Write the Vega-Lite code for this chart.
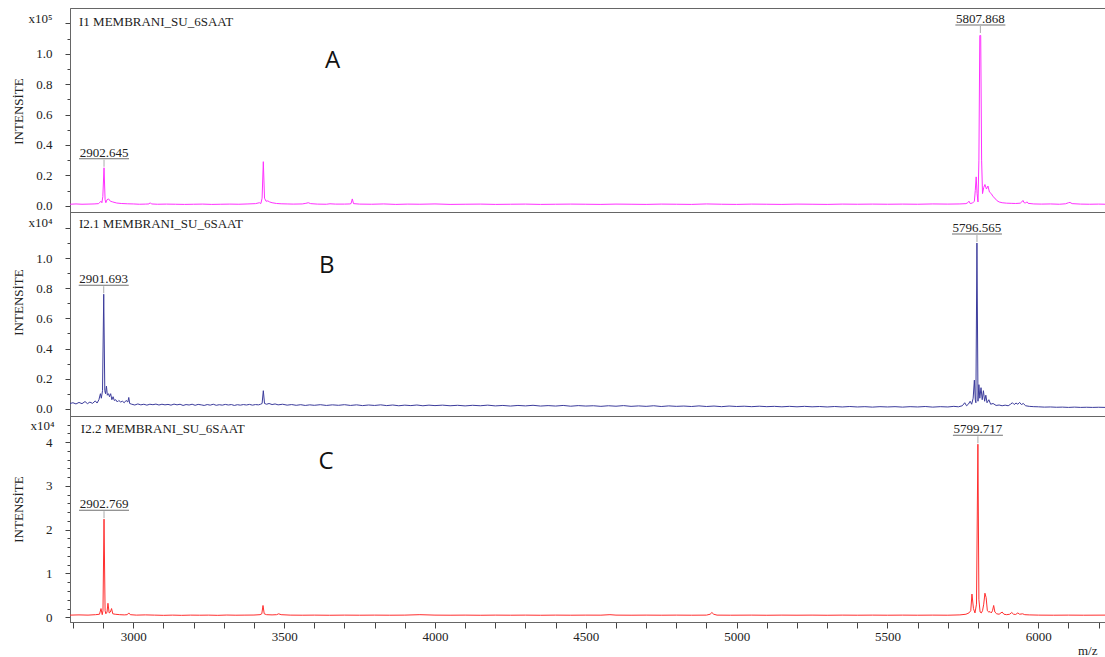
{
"$schema": "https://vega.github.io/schema/vega-lite/v6.json",
"padding": {"left": 11, "top": 7, "right": 0, "bottom": 2},
"spacing": 0,
"bounds": "flush",
"config": {
  "view": {"stroke": "#666666", "strokeWidth": 1},
  "axis": {"labelFont": "Liberation Serif, Times New Roman, serif", "labelFontSize": 13, "labelColor": "#222222", "titleFont": "Liberation Serif, Times New Roman, serif", "titleFontSize": 13, "titleFontWeight": "normal", "titleColor": "#222222", "domainColor": "#666666", "tickColor": "#444444", "grid": false},
  "text": {"font": "Liberation Serif, Times New Roman, serif", "fontSize": 13, "color": "#222222"}
},
"datasets": {
  "A": [
    {"mz":2790.2,"i":0.010},{"mz":2810,"i":0.012},{"mz":2830,"i":0.010},{"mz":2850,"i":0.011},{"mz":2870,"i":0.012},{"mz":2885,"i":0.014},{"mz":2893,"i":0.03},{"mz":2896,"i":0.02},{"mz":2899,"i":0.06},{"mz":2903,"i":0.25},{"mz":2906.5,"i":0.04},{"mz":2909,"i":0.02},{"mz":2913,"i":0.04},{"mz":2918,"i":0.045},{"mz":2924,"i":0.03},{"mz":2932,"i":0.025},{"mz":2945,"i":0.018},{"mz":2960,"i":0.015},{"mz":2980,"i":0.013},{"mz":3000,"i":0.012},{"mz":3020,"i":0.010},{"mz":3040,"i":0.011},{"mz":3052,"i":0.012},{"mz":3056,"i":0.02},{"mz":3060,"i":0.012},{"mz":3080,"i":0.010},{"mz":3110,"i":0.011},{"mz":3140,"i":0.010},{"mz":3170,"i":0.009},{"mz":3200,"i":0.010},{"mz":3230,"i":0.011},{"mz":3260,"i":0.009},{"mz":3290,"i":0.010},{"mz":3320,"i":0.011},{"mz":3350,"i":0.010},{"mz":3380,"i":0.012},{"mz":3405,"i":0.014},{"mz":3418,"i":0.02},{"mz":3423,"i":0.015},{"mz":3427,"i":0.05},{"mz":3431,"i":0.29},{"mz":3435,"i":0.05},{"mz":3440,"i":0.03},{"mz":3446,"i":0.032},{"mz":3452,"i":0.025},{"mz":3460,"i":0.02},{"mz":3475,"i":0.015},{"mz":3490,"i":0.013},{"mz":3510,"i":0.012},{"mz":3530,"i":0.011},{"mz":3560,"i":0.012},{"mz":3572,"i":0.016},{"mz":3580,"i":0.02},{"mz":3588,"i":0.014},{"mz":3610,"i":0.011},{"mz":3640,"i":0.01},{"mz":3652,"i":0.013},{"mz":3670,"i":0.011},{"mz":3700,"i":0.011},{"mz":3718,"i":0.012},{"mz":3722,"i":0.015},{"mz":3726,"i":0.045},{"mz":3730,"i":0.014},{"mz":3750,"i":0.011},{"mz":3790,"i":0.01},{"mz":3830,"i":0.012},{"mz":3870,"i":0.009},{"mz":3910,"i":0.011},{"mz":3950,"i":0.01},{"mz":4000,"i":0.012},{"mz":4050,"i":0.009},{"mz":4100,"i":0.010},{"mz":4150,"i":0.011},{"mz":4200,"i":0.009},{"mz":4250,"i":0.01},{"mz":4300,"i":0.011},{"mz":4350,"i":0.009},{"mz":4400,"i":0.010},{"mz":4450,"i":0.011},{"mz":4500,"i":0.01},{"mz":4550,"i":0.009},{"mz":4600,"i":0.011},{"mz":4650,"i":0.01},{"mz":4700,"i":0.009},{"mz":4750,"i":0.011},{"mz":4800,"i":0.01},{"mz":4850,"i":0.009},{"mz":4900,"i":0.012},{"mz":4950,"i":0.01},{"mz":5000,"i":0.009},{"mz":5050,"i":0.011},{"mz":5100,"i":0.01},{"mz":5150,"i":0.009},{"mz":5200,"i":0.011},{"mz":5250,"i":0.01},{"mz":5300,"i":0.009},{"mz":5350,"i":0.011},{"mz":5400,"i":0.01},{"mz":5450,"i":0.011},{"mz":5500,"i":0.01},{"mz":5550,"i":0.011},{"mz":5600,"i":0.01},{"mz":5650,"i":0.012},{"mz":5700,"i":0.011},
    {"mz":5740,"i":0.012},{"mz":5760,"i":0.014},{"mz":5766,"i":0.02},{"mz":5770,"i":0.03},{"mz":5774,"i":0.015},{"mz":5782,"i":0.018},{"mz":5788,"i":0.03},{"mz":5791,"i":0.1},{"mz":5794,"i":0.19},{"mz":5797,"i":0.08},{"mz":5800,"i":0.025},{"mz":5803,"i":0.3},{"mz":5806,"i":1.12},{"mz":5809,"i":1.12},{"mz":5812,"i":0.3},{"mz":5815,"i":0.08},{"mz":5819,"i":0.12},{"mz":5823,"i":0.14},{"mz":5828,"i":0.11},{"mz":5833,"i":0.13},{"mz":5838,"i":0.09},{"mz":5844,"i":0.08},{"mz":5850,"i":0.06},{"mz":5856,"i":0.05},{"mz":5862,"i":0.035},{"mz":5870,"i":0.025},{"mz":5880,"i":0.02},{"mz":5895,"i":0.017},{"mz":5910,"i":0.016},{"mz":5925,"i":0.015},{"mz":5940,"i":0.017},{"mz":5945,"i":0.025},{"mz":5949,"i":0.035},{"mz":5953,"i":0.02},{"mz":5958,"i":0.018},{"mz":5962,"i":0.026},{"mz":5966,"i":0.016},{"mz":5985,"i":0.012},{"mz":6010,"i":0.011},{"mz":6040,"i":0.012},{"mz":6070,"i":0.01},{"mz":6090,"i":0.013},{"mz":6100,"i":0.02},{"mz":6105,"i":0.022},{"mz":6112,"i":0.014},{"mz":6140,"i":0.011},{"mz":6170,"i":0.01},{"mz":6200,"i":0.011},{"mz":6221,"i":0.01}
  ],
  "B": [
    {"mz":2790.2,"i":0.035},{"mz":2800,"i":0.04},{"mz":2810,"i":0.032},{"mz":2820,"i":0.042},{"mz":2830,"i":0.034},{"mz":2840,"i":0.048},{"mz":2848,"i":0.034},{"mz":2856,"i":0.044},{"mz":2865,"i":0.036},{"mz":2874,"i":0.052},{"mz":2880,"i":0.038},{"mz":2886,"i":0.06},{"mz":2891,"i":0.1},{"mz":2894,"i":0.07},{"mz":2898,"i":0.12},{"mz":2902,"i":0.76},{"mz":2905.5,"i":0.12},{"mz":2908,"i":0.1},{"mz":2911,"i":0.15},{"mz":2914,"i":0.09},{"mz":2918,"i":0.1},{"mz":2921,"i":0.08},{"mz":2925,"i":0.1},{"mz":2929,"i":0.06},{"mz":2933,"i":0.08},{"mz":2937,"i":0.055},{"mz":2942,"i":0.06},{"mz":2947,"i":0.045},{"mz":2952,"i":0.055},{"mz":2958,"i":0.045},{"mz":2964,"i":0.05},{"mz":2970,"i":0.04},{"mz":2976,"i":0.055},{"mz":2982,"i":0.045},{"mz":2985,"i":0.075},{"mz":2988,"i":0.035},{"mz":2995,"i":0.03},{"mz":3005,"i":0.025},{"mz":3015,"i":0.032},{"mz":3025,"i":0.026},{"mz":3035,"i":0.03},{"mz":3045,"i":0.024},{"mz":3055,"i":0.03},{"mz":3065,"i":0.027},{"mz":3075,"i":0.031},{"mz":3085,"i":0.025},{"mz":3095,"i":0.03},{"mz":3105,"i":0.026},{"mz":3115,"i":0.029},{"mz":3125,"i":0.024},{"mz":3135,"i":0.031},{"mz":3145,"i":0.026},{"mz":3155,"i":0.03},{"mz":3165,"i":0.022},{"mz":3175,"i":0.028},{"mz":3185,"i":0.025},{"mz":3195,"i":0.03},{"mz":3205,"i":0.023},{"mz":3215,"i":0.029},{"mz":3225,"i":0.026},{"mz":3235,"i":0.022},{"mz":3245,"i":0.028},{"mz":3255,"i":0.024},{"mz":3265,"i":0.03},{"mz":3275,"i":0.023},{"mz":3285,"i":0.027},{"mz":3295,"i":0.024},{"mz":3305,"i":0.029},{"mz":3315,"i":0.025},{"mz":3325,"i":0.028},{"mz":3335,"i":0.022},{"mz":3345,"i":0.027},{"mz":3355,"i":0.024},{"mz":3365,"i":0.028},{"mz":3375,"i":0.025},{"mz":3385,"i":0.029},{"mz":3395,"i":0.024},{"mz":3405,"i":0.028},{"mz":3415,"i":0.026},{"mz":3422,"i":0.03},{"mz":3427,"i":0.035},{"mz":3431,"i":0.12},{"mz":3435,"i":0.035},{"mz":3442,"i":0.03},{"mz":3450,"i":0.035},{"mz":3460,"i":0.028},{"mz":3470,"i":0.032},{"mz":3480,"i":0.026},{"mz":3495,"i":0.03},{"mz":3510,"i":0.024},{"mz":3525,"i":0.028},{"mz":3540,"i":0.023},{"mz":3555,"i":0.027},{"mz":3570,"i":0.022},{"mz":3585,"i":0.026},{"mz":3600,"i":0.023},{"mz":3620,"i":0.027},{"mz":3640,"i":0.022},{"mz":3660,"i":0.026},{"mz":3680,"i":0.023},{"mz":3700,"i":0.027},{"mz":3720,"i":0.022},{"mz":3740,"i":0.026},{"mz":3760,"i":0.021},{"mz":3780,"i":0.025},{"mz":3800,"i":0.022},{"mz":3820,"i":0.026},{"mz":3840,"i":0.021},{"mz":3860,"i":0.025},{"mz":3880,"i":0.02},{"mz":3900,"i":0.024},{"mz":3920,"i":0.021},{"mz":3940,"i":0.025},{"mz":3960,"i":0.02},{"mz":3980,"i":0.024},{"mz":4000,"i":0.021},{"mz":4025,"i":0.024},{"mz":4050,"i":0.02},{"mz":4075,"i":0.023},{"mz":4100,"i":0.019},{"mz":4125,"i":0.023},{"mz":4150,"i":0.02},{"mz":4175,"i":0.024},{"mz":4200,"i":0.019},{"mz":4225,"i":0.022},{"mz":4250,"i":0.018},{"mz":4275,"i":0.022},{"mz":4300,"i":0.019},{"mz":4325,"i":0.023},{"mz":4350,"i":0.018},{"mz":4375,"i":0.021},{"mz":4400,"i":0.018},{"mz":4425,"i":0.022},{"mz":4450,"i":0.017},{"mz":4475,"i":0.021},{"mz":4500,"i":0.018},{"mz":4525,"i":0.02},{"mz":4550,"i":0.016},{"mz":4575,"i":0.02},{"mz":4600,"i":0.017},{"mz":4625,"i":0.021},{"mz":4650,"i":0.016},{"mz":4675,"i":0.019},{"mz":4700,"i":0.016},{"mz":4725,"i":0.02},{"mz":4750,"i":0.015},{"mz":4775,"i":0.019},{"mz":4800,"i":0.016},{"mz":4825,"i":0.018},{"mz":4850,"i":0.015},{"mz":4875,"i":0.019},{"mz":4900,"i":0.015},{"mz":4925,"i":0.018},{"mz":4950,"i":0.014},{"mz":4975,"i":0.018},{"mz":5000,"i":0.015},{"mz":5025,"i":0.017},{"mz":5050,"i":0.014},{"mz":5075,"i":0.017},{"mz":5100,"i":0.014},{"mz":5125,"i":0.016},{"mz":5150,"i":0.013},{"mz":5175,"i":0.016},{"mz":5200,"i":0.013},{"mz":5225,"i":0.016},{"mz":5250,"i":0.013},{"mz":5275,"i":0.015},{"mz":5300,"i":0.012},{"mz":5325,"i":0.015},{"mz":5350,"i":0.012},{"mz":5375,"i":0.015},{"mz":5400,"i":0.012},{"mz":5425,"i":0.014},{"mz":5450,"i":0.011},{"mz":5475,"i":0.014},{"mz":5500,"i":0.012},{"mz":5525,"i":0.014},{"mz":5550,"i":0.011},{"mz":5575,"i":0.014},{"mz":5600,"i":0.012},{"mz":5625,"i":0.015},{"mz":5650,"i":0.011},{"mz":5675,"i":0.014},{"mz":5700,"i":0.012},{"mz":5720,"i":0.016},{"mz":5735,"i":0.013},{"mz":5748,"i":0.02},{"mz":5756,"i":0.04},{"mz":5762,"i":0.02},{"mz":5768,"i":0.03},{"mz":5774,"i":0.05},{"mz":5779,"i":0.03},{"mz":5784,"i":0.07},{"mz":5788,"i":0.19},{"mz":5791,"i":0.06},{"mz":5793,"i":0.04},{"mz":5796.5,"i":1.1},{"mz":5800,"i":0.05},{"mz":5803,"i":0.16},{"mz":5806,"i":0.07},{"mz":5810,"i":0.14},{"mz":5814,"i":0.06},{"mz":5818,"i":0.12},{"mz":5822,"i":0.05},{"mz":5826,"i":0.09},{"mz":5830,"i":0.04},{"mz":5836,"i":0.06},{"mz":5842,"i":0.03},{"mz":5850,"i":0.035},{"mz":5860,"i":0.022},{"mz":5870,"i":0.025},{"mz":5880,"i":0.02},{"mz":5890,"i":0.024},{"mz":5900,"i":0.02},{"mz":5908,"i":0.03},{"mz":5914,"i":0.04},{"mz":5920,"i":0.028},{"mz":5926,"i":0.038},{"mz":5932,"i":0.03},{"mz":5938,"i":0.042},{"mz":5944,"i":0.028},{"mz":5950,"i":0.035},{"mz":5958,"i":0.02},{"mz":5970,"i":0.016},{"mz":5985,"i":0.014},{"mz":6000,"i":0.013},{"mz":6020,"i":0.011},{"mz":6040,"i":0.012},{"mz":6060,"i":0.01},{"mz":6080,"i":0.011},{"mz":6100,"i":0.009},{"mz":6120,"i":0.011},{"mz":6140,"i":0.009},{"mz":6160,"i":0.01},{"mz":6180,"i":0.009},{"mz":6200,"i":0.01},{"mz":6221,"i":0.009}
  ],
  "C": [
    {"mz":2790.2,"i":0.05},{"mz":2820,"i":0.055},{"mz":2850,"i":0.05},{"mz":2875,"i":0.06},{"mz":2888,"i":0.07},{"mz":2893,"i":0.2},{"mz":2897,"i":0.06},{"mz":2899.5,"i":0.15},{"mz":2903,"i":2.24},{"mz":2906.5,"i":0.15},{"mz":2909,"i":0.08},{"mz":2913,"i":0.12},{"mz":2916,"i":0.32},{"mz":2920,"i":0.1},{"mz":2924,"i":0.12},{"mz":2928,"i":0.2},{"mz":2932,"i":0.08},{"mz":2940,"i":0.07},{"mz":2955,"i":0.06},{"mz":2970,"i":0.055},{"mz":2980,"i":0.06},{"mz":2985,"i":0.1},{"mz":2990,"i":0.06},{"mz":3010,"i":0.05},{"mz":3040,"i":0.055},{"mz":3070,"i":0.05},{"mz":3100,"i":0.045},{"mz":3130,"i":0.05},{"mz":3160,"i":0.045},{"mz":3190,"i":0.05},{"mz":3220,"i":0.048},{"mz":3250,"i":0.05},{"mz":3280,"i":0.045},{"mz":3310,"i":0.052},{"mz":3340,"i":0.048},{"mz":3370,"i":0.05},{"mz":3400,"i":0.052},{"mz":3420,"i":0.06},{"mz":3426,"i":0.08},{"mz":3430,"i":0.27},{"mz":3434,"i":0.08},{"mz":3442,"i":0.06},{"mz":3460,"i":0.055},{"mz":3475,"i":0.06},{"mz":3482,"i":0.08},{"mz":3490,"i":0.06},{"mz":3520,"i":0.05},{"mz":3560,"i":0.048},{"mz":3600,"i":0.05},{"mz":3650,"i":0.047},{"mz":3700,"i":0.05},{"mz":3750,"i":0.048},{"mz":3800,"i":0.05},{"mz":3850,"i":0.048},{"mz":3900,"i":0.05},{"mz":3950,"i":0.06},{"mz":4000,"i":0.05},{"mz":4050,"i":0.048},{"mz":4100,"i":0.05},{"mz":4150,"i":0.047},{"mz":4200,"i":0.05},{"mz":4250,"i":0.048},{"mz":4300,"i":0.05},{"mz":4350,"i":0.047},{"mz":4400,"i":0.05},{"mz":4450,"i":0.048},{"mz":4500,"i":0.05},{"mz":4550,"i":0.049},{"mz":4580,"i":0.06},{"mz":4600,"i":0.05},{"mz":4650,"i":0.048},{"mz":4700,"i":0.05},{"mz":4750,"i":0.048},{"mz":4800,"i":0.05},{"mz":4850,"i":0.048},{"mz":4900,"i":0.05},{"mz":4912,"i":0.07},{"mz":4918,"i":0.11},{"mz":4924,"i":0.07},{"mz":4935,"i":0.05},{"mz":4980,"i":0.048},{"mz":5050,"i":0.05},{"mz":5100,"i":0.047},{"mz":5150,"i":0.05},{"mz":5200,"i":0.048},{"mz":5250,"i":0.05},{"mz":5300,"i":0.047},{"mz":5350,"i":0.05},{"mz":5400,"i":0.048},{"mz":5450,"i":0.05},{"mz":5500,"i":0.048},{"mz":5550,"i":0.05},{"mz":5600,"i":0.048},{"mz":5650,"i":0.05},{"mz":5700,"i":0.048},{"mz":5740,"i":0.055},{"mz":5760,"i":0.07},{"mz":5770,"i":0.1},{"mz":5776,"i":0.15},{"mz":5780,"i":0.53},{"mz":5785,"i":0.2},{"mz":5790,"i":0.1},{"mz":5795,"i":0.3},{"mz":5799.7,"i":3.95},{"mz":5803,"i":0.4},{"mz":5807,"i":0.12},{"mz":5811,"i":0.1},{"mz":5815,"i":0.15},{"mz":5819,"i":0.3},{"mz":5823,"i":0.55},{"mz":5827,"i":0.45},{"mz":5831,"i":0.15},{"mz":5836,"i":0.12},{"mz":5840,"i":0.13},{"mz":5844,"i":0.1},{"mz":5848,"i":0.15},{"mz":5852,"i":0.27},{"mz":5856,"i":0.12},{"mz":5862,"i":0.08},{"mz":5870,"i":0.07},{"mz":5880,"i":0.12},{"mz":5886,"i":0.07},{"mz":5895,"i":0.06},{"mz":5905,"i":0.07},{"mz":5912,"i":0.11},{"mz":5918,"i":0.07},{"mz":5925,"i":0.065},{"mz":5932,"i":0.1},{"mz":5938,"i":0.07},{"mz":5948,"i":0.08},{"mz":5955,"i":0.06},{"mz":5970,"i":0.055},{"mz":6000,"i":0.05},{"mz":6050,"i":0.048},{"mz":6100,"i":0.05},{"mz":6150,"i":0.048},{"mz":6221,"i":0.05}
  ],
  "pk": [
    {"p":"A","mz":2903,"i":0.25,"label":"2902.645"},
    {"p":"A","mz":5807.868,"i":1.13,"label":"5807.868"},
    {"p":"B","mz":2902,"i":0.76,"label":"2901.693"},
    {"p":"B","mz":5796.565,"i":1.1,"label":"5796.565"},
    {"p":"C","mz":2903,"i":2.24,"label":"2902.769"},
    {"p":"C","mz":5799.717,"i":3.95,"label":"5799.717"}
  ],
  "notes": [
    {"p":"A","kind":"name","mz":2820,"i":1.183,"label":"I1 MEMBRANI_SU_6SAAT"},
    {"p":"A","kind":"letter","mz":3661,"i":0.906,"label":"A"},
    {"p":"B","kind":"name","mz":2820,"i":1.197,"label":"I2.1 MEMBRANI_SU_6SAAT"},
    {"p":"B","kind":"letter","mz":3641,"i":0.9,"label":"B"},
    {"p":"C","kind":"name","mz":2826,"i":4.206,"label":"I2.2 MEMBRANI_SU_6SAAT"},
    {"p":"C","kind":"letter","mz":3639,"i":3.376,"label":"C"}
  ]
},
"vconcat": [
  {
    "width": 1035, "height": 204,
    "encoding": {
      "x": {"field": "mz", "type": "quantitative", "scale": {"domain": [2790.2, 6221], "nice": false, "zero": false}, "axis": null},
      "y": {"field": "i", "type": "quantitative", "scale": {"domain": [-0.041, 1.301], "nice": false, "zero": false},
        "axis": {"title": "INTENSİTE", "titleX": -52, "titleY": 103, "titleBaseline": "middle", "labelPadding": 13,
          "values": [0, 0.1, 0.2, 0.3, 0.4, 0.5, 0.6, 0.7, 0.8, 0.9, 1.0, 1.1, 1.2],
          "labelExpr": "abs(datum.value*5-round(datum.value*5))<0.001 ? (datum.value>1.15 ? 'x10⁵' : format(datum.value,'.1f')) : ''",
          "tickSize": {"condition": {"test": "abs(datum.value*5-round(datum.value*5))<0.001", "value": 5}, "value": 3},
          "labelOffset": {"condition": {"test": "datum.value>1.15", "value": -5}, "value": 0}}}
    },
    "layer": [
      {"data": {"name": "A"}, "mark": {"type": "line", "color": "#ff30ff", "strokeWidth": 1, "clip": true}},
      {"data": {"name": "pk"}, "transform": [{"filter": "datum.p==='A'"}], "mark": {"type": "rule", "color": "#aaaaaa", "yOffset": -8, "y2Offset": -1}, "encoding": {"y2": {"field": "i"}}},
      {"data": {"name": "pk"}, "transform": [{"filter": "datum.p==='A'"}], "mark": {"type": "tick", "orient": "horizontal", "size": 50, "thickness": 1, "color": "#333333", "yOffset": -9}},
      {"data": {"name": "pk"}, "transform": [{"filter": "datum.p==='A'"}], "mark": {"type": "text", "dy": -11, "baseline": "alphabetic"}, "encoding": {"text": {"field": "label"}}},
      {"data": {"name": "notes"}, "transform": [{"filter": "datum.p==='A' && datum.kind==='name'"}], "mark": {"type": "text", "align": "left", "baseline": "alphabetic"}, "encoding": {"text": {"field": "label"}}},
      {"data": {"name": "notes"}, "transform": [{"filter": "datum.p==='A' && datum.kind==='letter'"}], "mark": {"type": "text", "align": "center", "baseline": "alphabetic", "font": "Open Sans", "fontSize": 24, "color": "#111111"}, "encoding": {"text": {"field": "label"}}}
    ]
  },
  {
    "width": 1035, "height": 204,
    "encoding": {
      "x": {"field": "mz", "type": "quantitative", "scale": {"domain": [2790.2, 6221], "nice": false, "zero": false}, "axis": null},
      "y": {"field": "i", "type": "quantitative", "scale": {"domain": [-0.048, 1.306], "nice": false, "zero": false},
        "axis": {"title": "INTENSİTE", "titleX": -52, "titleY": 90, "titleBaseline": "middle", "labelPadding": 13,
          "values": [0, 0.1, 0.2, 0.3, 0.4, 0.5, 0.6, 0.7, 0.8, 0.9, 1.0, 1.1, 1.2],
          "labelExpr": "abs(datum.value*5-round(datum.value*5))<0.001 ? (datum.value>1.15 ? 'x10⁴' : format(datum.value,'.1f')) : ''",
          "tickSize": {"condition": {"test": "abs(datum.value*5-round(datum.value*5))<0.001", "value": 5}, "value": 3},
          "labelOffset": {"condition": {"test": "datum.value>1.15", "value": -5}, "value": 0}}}
    },
    "layer": [
      {"data": {"name": "B"}, "mark": {"type": "line", "color": "#3c3c9c", "strokeWidth": 1, "clip": true}},
      {"data": {"name": "pk"}, "transform": [{"filter": "datum.p==='B'"}], "mark": {"type": "rule", "color": "#aaaaaa", "yOffset": -8, "y2Offset": -1}, "encoding": {"y2": {"field": "i"}}},
      {"data": {"name": "pk"}, "transform": [{"filter": "datum.p==='B'"}], "mark": {"type": "tick", "orient": "horizontal", "size": 50, "thickness": 1, "color": "#333333", "yOffset": -9}},
      {"data": {"name": "pk"}, "transform": [{"filter": "datum.p==='B'"}], "mark": {"type": "text", "dy": -11, "baseline": "alphabetic"}, "encoding": {"text": {"field": "label"}}},
      {"data": {"name": "notes"}, "transform": [{"filter": "datum.p==='B' && datum.kind==='name'"}], "mark": {"type": "text", "align": "left", "baseline": "alphabetic"}, "encoding": {"text": {"field": "label"}}},
      {"data": {"name": "notes"}, "transform": [{"filter": "datum.p==='B' && datum.kind==='letter'"}], "mark": {"type": "text", "align": "center", "baseline": "alphabetic", "font": "Open Sans", "fontSize": 24, "color": "#111111"}, "encoding": {"text": {"field": "label"}}}
    ]
  },
  {
    "width": 1035, "height": 206,
    "encoding": {
      "x": {"field": "mz", "type": "quantitative", "scale": {"domain": [2790.2, 6221], "nice": false, "zero": false},
        "axis": {"title": "m/z", "titleX": 1027, "titleY": 32, "titleAlign": "right", "titleBaseline": "alphabetic", "tickSize": 6, "labelPadding": 2,
          "values": [2800, 2900, 3000, 3100, 3200, 3300, 3400, 3500, 3600, 3700, 3800, 3900, 4000, 4100, 4200, 4300, 4400, 4500, 4600, 4700, 4800, 4900, 5000, 5100, 5200, 5300, 5400, 5500, 5600, 5700, 5800, 5900, 6000, 6100, 6200],
          "labelExpr": "datum.value % 500 === 0 ? format(datum.value,'d') : ''"}},
      "y": {"field": "i", "type": "quantitative", "scale": {"domain": [-0.107, 4.594], "nice": false, "zero": false},
        "axis": {"title": "INTENSİTE", "titleX": -52, "titleY": 93, "titleBaseline": "middle", "labelPadding": 13,
          "values": [0, 0.2, 0.4, 0.6, 0.8, 1, 1.2, 1.4, 1.6, 1.8, 2, 2.2, 2.4, 2.6, 2.8, 3, 3.2, 3.4, 3.6, 3.8, 4, 4.2, 4.4],
          "labelExpr": "datum.value>4.3 ? 'x10⁴' : (abs(datum.value-round(datum.value))<0.001 ? format(datum.value,'d') : '')",
          "tickSize": {"condition": {"test": "abs(datum.value-round(datum.value))<0.001", "value": 5}, "value": 3},
          "labelOffset": {"condition": {"test": "datum.value>4.3", "value": 1}, "value": 0}}}
    },
    "layer": [
      {"data": {"name": "C"}, "mark": {"type": "line", "color": "#ff2e2e", "strokeWidth": 1, "clip": true}},
      {"data": {"name": "pk"}, "transform": [{"filter": "datum.p==='C'"}], "mark": {"type": "rule", "color": "#aaaaaa", "yOffset": -8, "y2Offset": -1}, "encoding": {"y2": {"field": "i"}}},
      {"data": {"name": "pk"}, "transform": [{"filter": "datum.p==='C'"}], "mark": {"type": "tick", "orient": "horizontal", "size": 50, "thickness": 1, "color": "#333333", "yOffset": -9}},
      {"data": {"name": "pk"}, "transform": [{"filter": "datum.p==='C'"}], "mark": {"type": "text", "dy": -11, "baseline": "alphabetic"}, "encoding": {"text": {"field": "label"}}},
      {"data": {"name": "notes"}, "transform": [{"filter": "datum.p==='C' && datum.kind==='name'"}], "mark": {"type": "text", "align": "left", "baseline": "alphabetic"}, "encoding": {"text": {"field": "label"}}},
      {"data": {"name": "notes"}, "transform": [{"filter": "datum.p==='C' && datum.kind==='letter'"}], "mark": {"type": "text", "align": "center", "baseline": "alphabetic", "font": "Open Sans", "fontSize": 24, "color": "#111111"}, "encoding": {"text": {"field": "label"}}}
    ]
  }
]
}
